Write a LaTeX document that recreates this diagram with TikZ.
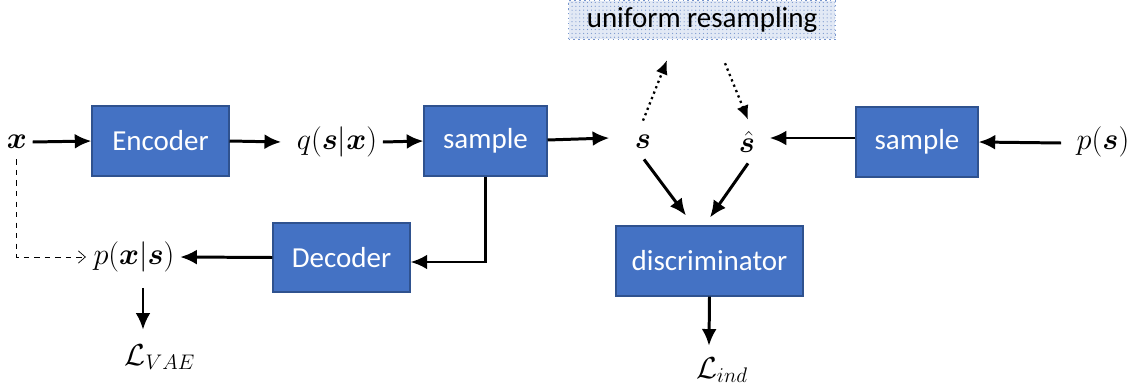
\documentclass[tikz,border=0pt]{standalone}
\usepackage{fontspec}
\usepackage{amsmath,bm}
\setmainfont{Carlito}
\usetikzlibrary{arrows.meta,calc,patterns.meta}
\definecolor{boxblue}{RGB}{68,114,196}
\definecolor{boxedge}{RGB}{47,82,143}
\definecolor{dotblue}{RGB}{120,150,205}
\definecolor{palefill}{RGB}{226,233,245}
\begin{document}
\begin{tikzpicture}[x=0.02cm,y=-0.02cm,
  blockbox/.style={draw=boxedge,line width=0.6pt,fill=boxblue,text=white,
    font=\fontsize{16.5}{19}\selectfont,inner sep=0pt,minimum height=1.4cm},
  mathlbl/.style={font=\fontsize{17}{20}\selectfont,inner sep=3pt},
  flow/.style={line width=1.7pt,-{Latex[length=9.5pt,width=8.5pt]}},
  dotflow/.style={line width=1.3pt,dotted,-{Latex[length=8pt,width=7pt]}},
  skipflow/.style={thin,dashed,-{Straight Barb[length=4pt,width=7pt]}}]
\useasboundingbox (0,0) rectangle (1147,389);

% resampling box on top
\node[draw=dotblue,dotted,line width=0.8pt,fill=palefill,
  postaction={pattern={Dots[distance=2.2pt,radius=0.35pt]},pattern color=dotblue},
  minimum width=5.34cm,minimum height=0.78cm,inner sep=0pt,
  font=\fontsize{16.5}{19}\selectfont] (unif) at (702,20) {uniform resampling};

% upper row
\node[mathlbl] (x) at (17,142) {$\bm{x}$};
\node[blockbox,minimum width=2.74cm] (enc) at (160.5,141) {Encoder};
\node[mathlbl] (q) at (337,142) {$q(\bm{s}|\bm{x})$};
\node[blockbox,minimum width=2.46cm] (samp1) at (485.5,141) {sample};
\node[mathlbl] (s) at (643,142) {$\bm{s}$};
\node[mathlbl] (sh) at (747,142) {$\hat{\bm{s}}$};
\node[blockbox,minimum width=2.44cm] (samp2) at (917,142) {sample};
\node[mathlbl] (ps) at (1103,142) {$p(\bm{s})$};

% lower row
\node[blockbox,minimum width=2.74cm,minimum height=1.38cm] (dec) at (341.5,257.5) {Decoder};
\node[mathlbl] (pxs) at (134,257) {$p(\bm{x}|\bm{s})$};
\node[blockbox,minimum width=3.74cm] (disc) at (709.5,261) {discriminator};
\node[mathlbl] (lvae) at (160,357) {$\mathcal{L}_{VAE}$};
\node[mathlbl] (lind) at (722,370) {$\mathcal{L}_{ind}$};

% encoder path
\draw[flow] (x.east) -- (enc.west);
\draw[flow] (enc.east) -- ($(q.west)+(-10,0)$);
\draw[flow] (q.east) -- (samp1.west);
\draw[flow] ($(samp1.east)+(0,-1)$) -- ($(s.west)+(-20,-4)$);

% prior path
\draw[flow] ($(ps.west)+(-10,1)$) -- (samp2.east);
\draw[flow] ($(samp2.west)+(0,-4)$) -- ($(sh.east)+(9,-4)$);

% decoder path
\draw[flow] (samp1.south) |- ($(dec.east)+(0,4.5)$);
\draw[flow] (dec.west) -- (pxs.east);
\draw[skipflow] ($(x.south)+(-1,5)$) |- ($(pxs.west)+(-2,0)$);
\draw[flow] ($(pxs.south)+(9,10)$) -- ($(lvae.north)+(-17,-9)$);

% discriminator inputs and output
\draw[flow] ($(s.south)+(1,5)$) -- ($(disc.north)+(-23.5,-10)$);
\draw[flow] ($(sh.south)+(1,5)$) -- ($(disc.north)+(0.5,-8)$);
\draw[flow] (disc.south) -- ($(lind.north)+(-13,-6)$);

% resampling links
\draw[dotflow] ($(s.north)+(0,-9)$) -- ($(unif.south)+(-35,20)$);
\draw[dotflow] ($(unif.south)+(23,23)$) -- ($(sh.north)+(1,-6)$);
\end{tikzpicture}
\end{document}
